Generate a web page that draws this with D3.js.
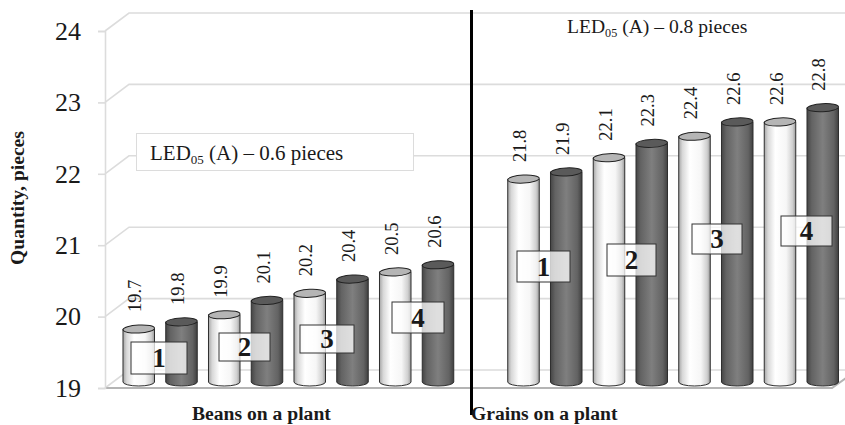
<!DOCTYPE html>
<html>
<head>
<meta charset="utf-8">
<script src="https://cdn.jsdelivr.net/npm/d3@7"></script>
<style>
  html, body { margin: 0; padding: 0; background: #fff; }
  svg { display: block; }
  text { font-family: "Liberation Serif", serif; fill: #1a1a1a; }
</style>
</head>
<body>
<svg></svg>
<script>
// Values
const yTicks = [19, 20, 21, 22, 23, 24]
const slots = ['b1', 'b2', 'b3', 'b4', 'b5', 'b6', 'b7', 'b8', 'gap', 'g1', 'g2', 'g3', 'g4', 'g5', 'g6', 'g7', 'g8']
const barSlots = ['b1', 'b2', 'b3', 'b4', 'b5', 'b6', 'b7', 'b8', 'g1', 'g2', 'g3', 'g4', 'g5', 'g6', 'g7', 'g8']
const barValues = [19.7, 19.8, 19.9, 20.1, 20.2, 20.4, 20.5, 20.6, 21.8, 21.9, 22.1, 22.3, 22.4, 22.6, 22.6, 22.8]
const barKinds = ['light', 'dark', 'light', 'dark', 'light', 'dark', 'light', 'dark', 'light', 'dark', 'light', 'dark', 'light', 'dark', 'light', 'dark']
const variantLabels = ['1', '2', '3', '4', '1', '2', '3', '4']
const groupLabels = ['Beans on a plant', 'Grains on a plant']
const ledLabels = ['0.6', '0.8']

// Canvas setup
const width = 845
const height = 425
const svg = d3.select('svg').attr('width', width).attr('height', height)

const wallX = 105
const depthX = 24
const depthY = 18

// Define scales
const yScale = d3.scaleLinear().domain([19, 24]).range([388, 31])
const xScale = d3.scaleBand().domain(slots).range([123, 838.5]).paddingInner(0.263).paddingOuter(0)

// Gradients for the cylinders
const defs = svg.append('defs')
const addGradient = (id, stops) => {
    const g = defs.append('linearGradient').attr('id', id)
    stops.forEach((s) => g.append('stop').attr('offset', s[0]).attr('stop-color', s[1]))
}
addGradient('light', [[0, '#a6a6a6'], [0.12, '#d8d8d8'], [0.35, '#ffffff'], [0.7, '#f6f6f6'], [0.9, '#cfcfcf'], [1, '#9a9a9a']])
addGradient('dark', [[0, '#454545'], [0.15, '#636363'], [0.5, '#7f7f7f'], [0.85, '#636363'], [1, '#404040']])

// Back wall gridlines and the slanted side wall
const grid = svg.append('g').attr('fill', 'none').attr('stroke', '#dcdcdc').attr('stroke-width', 1.6)
grid.selectAll('path')
    .data(yTicks)
    .enter()
    .append('path')
    .attr('d', (d) => {
        const y = yScale(d)
        return 'M' + wallX + ',' + y + 'L' + (wallX + depthX) + ',' + (y - depthY) + 'H' + width
    })

// Floor
svg.append('path')
    .attr('d', 'M' + wallX + ',' + yScale(19) + 'H832L' + (832 + 14) + ',' + (yScale(19) - 10))
    .attr('fill', 'none')
    .attr('stroke', '#b4b4b4')
    .attr('stroke-width', 2)

// Y axis
const yAxis = d3.axisLeft(yScale).tickValues(yTicks).tickSize(7).tickPadding(17).tickFormat(d3.format('d'))
const yAxisG = svg.append('g')
    .attr('transform', 'translate(' + wallX + ',0)')
    .call(yAxis)
yAxisG.select('.domain').attr('stroke', '#dcdcdc').attr('stroke-width', 1.6)
yAxisG.selectAll('.tick line').attr('stroke', '#dcdcdc').attr('stroke-width', 1.6)
yAxisG.selectAll('.tick text')
    .style('font-family', '"Liberation Serif", serif')
    .style('font-size', '26px')
    .attr('fill', '#1a1a1a')

// Cylinders
const bars = barValues.map((v, i) => ({ value: v, slot: barSlots[i], kind: barKinds[i] }))
const rx = xScale.bandwidth() / 2
const ry = 4
const baseY = 382
const topY = (v) => yScale(v) - 9

const cyl = svg.selectAll('g.cyl')
    .data(bars)
    .enter()
    .append('g')
    .attr('class', 'cyl')
    .attr('transform', (d) => 'translate(' + (xScale(d.slot) + rx) + ',0)')

cyl.append('path')
    .attr('d', (d) => {
        return 'M' + (-rx) + ',' + topY(d.value) +
            'V' + baseY +
            'A' + rx + ',' + ry + ' 0 0 0 ' + rx + ',' + baseY +
            'V' + topY(d.value) + 'Z'
    })
    .attr('fill', (d) => 'url(#' + d.kind + ')')
    .attr('stroke', '#2e2e2e')
    .attr('stroke-width', 1)

cyl.append('ellipse')
    .attr('cy', (d) => topY(d.value))
    .attr('rx', rx)
    .attr('ry', ry)
    .attr('transform', (d) => 'rotate(-3,0,' + topY(d.value) + ')')
    .attr('fill', (d) => d.kind === 'light' ? '#b5b5b5' : '#5a5a5a')
    .attr('stroke', '#222')
    .attr('stroke-width', 1)

// Value labels, turned on their side
cyl.append('text')
    .attr('transform', (d) => 'translate(-3.5,' + (topY(d.value) - 17) + ') rotate(-90)')
    .attr('dy', '0.33em')
    .attr('font-size', 18.5)
    .text((d) => d.value.toFixed(1))

// Variant boxes over each pair
const boxes = [
    [131, 342, 56, 32], [219, 333, 51, 28], [300, 325, 54, 28], [392, 302, 52, 31],
    [517, 251, 53, 31], [607, 244, 49, 32], [692, 224, 50, 30], [781, 216, 51, 30]
]
const box = svg.selectAll('g.variant')
    .data(variantLabels)
    .enter()
    .append('g')
    .attr('class', 'variant')
    .attr('transform', (d, i) => 'translate(' + boxes[i][0] + ',' + boxes[i][1] + ')')
box.append('rect')
    .attr('width', (d, i) => boxes[i][2])
    .attr('height', (d, i) => boxes[i][3])
    .attr('fill', '#fff')
    .attr('fill-opacity', 0.75)
    .attr('stroke', '#333')
    .attr('stroke-width', 1)
box.append('text')
    .attr('x', (d, i) => boxes[i][2] / 2)
    .attr('y', (d, i) => boxes[i][3] / 2)
    .attr('dy', '0.35em')
    .attr('text-anchor', 'middle')
    .attr('font-size', 27)
    .attr('font-weight', 'bold')
    .attr('fill', '#000')
    .text((d) => d)

// LED notes
svg.append('rect')
    .attr('x', 136.5).attr('y', 133.5).attr('width', 277).attr('height', 37)
    .attr('fill', '#fff').attr('stroke', '#dcdcdc').attr('stroke-width', 1)

const addLed = (x, y, size, value) => {
    const t = svg.append('text').attr('x', x).attr('y', y).attr('font-size', size)
    t.append('tspan').text('LED')
    t.append('tspan').attr('font-size', size * 0.62).attr('dy', 4).text('05')
    t.append('tspan').attr('dy', -4).text(' (A) \u2013 ' + value + ' pieces')
}
addLed(150, 160, 21, ledLabels[0])
addLed(567, 33, 19.6, ledLabels[1])

// Divider
svg.append('line')
    .attr('x1', 471.5).attr('x2', 471.5).attr('y1', 10).attr('y2', 415)
    .attr('stroke', '#000').attr('stroke-width', 3)

// Axis and group titles
svg.append('text')
    .attr('transform', 'translate(24,198) rotate(-90)')
    .attr('text-anchor', 'middle')
    .attr('font-size', 19.6)
    .attr('font-weight', 'bold')
    .text('Quantity, pieces')

svg.selectAll('text.group')
    .data(groupLabels)
    .enter()
    .append('text')
    .attr('class', 'group')
    .attr('x', (d, i) => i === 0 ? 192 : 471)
    .attr('y', 420)
    .attr('font-size', 19.6)
    .attr('font-weight', 'bold')
    .text((d) => d)
</script>
</body>
</html>
